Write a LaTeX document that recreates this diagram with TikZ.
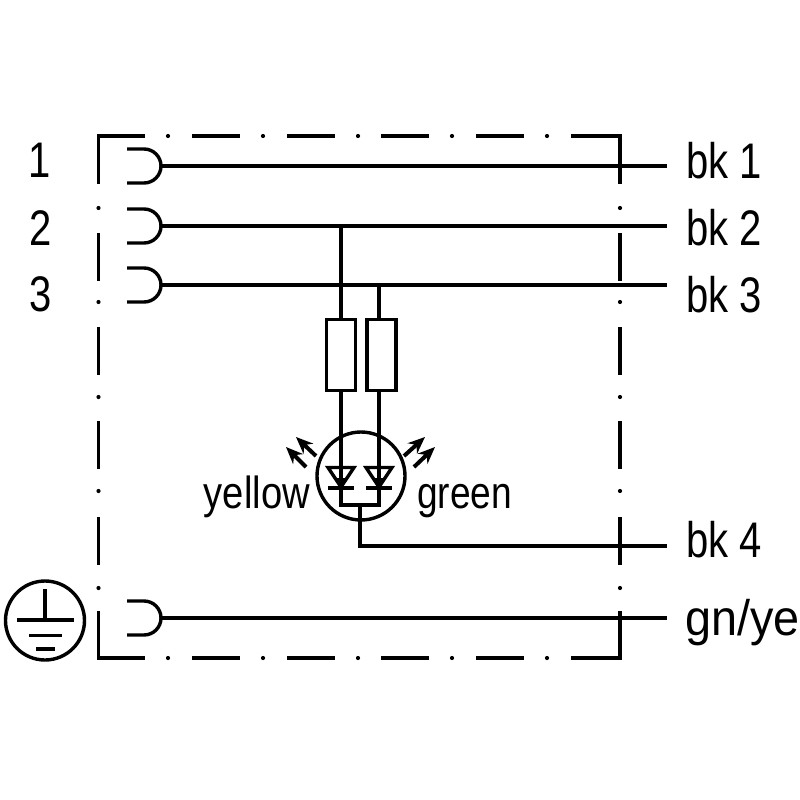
\documentclass[tikz,border=0pt]{standalone}
\usepackage{fontspec}
\setmainfont[FakeStretch=0.8]{Liberation Sans}
\usetikzlibrary{arrows.meta}
\tikzset{
  wire/.style={line width=3.4pt,black},
  frameline/.style={line width=3.4pt,black},
  res/.style={draw,line width=3.4pt,minimum width=29pt,minimum height=71pt,inner sep=0pt},
  lbl/.style={anchor=base west,inner sep=0pt,font=\fontsize{50}{50}\selectfont},
  small/.style={inner sep=0pt,font=\fontsize{45}{45}\selectfont},
  lightarrow/.style={line width=4pt,-{Stealth[length=17pt,width=14pt]}},
  ring/.style={draw,circle,line width=3.4pt,inner sep=0pt}
}
\begin{document}
\begin{tikzpicture}[x=1pt,y=-1pt]
\useasboundingbox (0,0) rectangle (800,800);
% frame corners
\draw[frameline,line join=miter] (145,136) -- (98.5,136) -- (98.5,184);
\draw[frameline,line join=miter] (571,136) -- (620,136) -- (620,184);
\draw[frameline,line join=miter] (98.5,611) -- (98.5,658) -- (145,658);
\draw[frameline,line join=miter] (620,611) -- (620,658) -- (571,658);
% frame dashes, vertical
\foreach \a/\b in {233/281,327/375,421/469,517/565}{
  \draw[frameline] (98.5,\a) -- (98.5,\b);
  \draw[frameline] (620,\a) -- (620,\b);
}
% frame dashes, horizontal
\foreach \a/\b in {192/240,287/335,381/429,476/524}{
  \draw[frameline] (\a,136) -- (\b,136);
  \draw[frameline] (\a,658) -- (\b,658);
}
% frame dots
\foreach \p in {208,302,397,491,588}{
  \fill (98.5,\p) circle[radius=2.1pt];
  \fill (620,\p) circle[radius=2.1pt];
}
\foreach \p in {168,263,358,452,547}{
  \fill (\p,136) circle[radius=2.1pt];
  \fill (\p,658) circle[radius=2.1pt];
}
% plugs
\foreach \y/\n in {166/a,226/b,285/c,618/d}{
  \draw[wire] (127,\y-17) -- (144,\y-17) arc[start angle=-90,end angle=90,radius=17] -- (127,\y+17);
  \coordinate (plug\n) at (160,\y);
  \coordinate (end\n) at (667,\y);
  \draw[wire] (plug\n) -- (end\n);
}
% labels
\node[lbl] (n1) at (28,177) {1};
\node[lbl] (n2) at (29,245) {2};
\node[lbl] (n3) at (29,311) {3};
\node[lbl] (bk1) at (686,178) {bk 1};
\node[lbl] (bk2) at (686,245) {bk 2};
\node[lbl] (bk3) at (686,312) {bk 3};
\node[lbl] (bk4) at (686,557) {bk 4};
\node[lbl] (gnye) at (685,635) {\scalebox{1.17}[1]{gn/ye}};
\node[small,anchor=base east] (yellow) at (310,508) {\scalebox{1.06}[1]{yellow}};
\node[small,anchor=base west] (green) at (417,508) {\scalebox{1.03}[1]{green}};
% resistors and LED
\coordinate (jl) at (341,226);
\coordinate (jr) at (379,285);
\node[res] (rl) at (341,355) {};
\node[res] (rr) at (381.5,355) {};
\node[ring,minimum size=88pt] (led) at (361,476) {};
\coordinate (bl) at (341,505);
\coordinate (br) at (379,505);
\coordinate (bm) at (360,505);
\coordinate (out) at (360,546);
\coordinate (endbk) at (667,546);
\draw[wire] (jl) -- (rl.north);
\draw[wire] (jr) -- (379,319);
\draw[wire,line join=miter] (rl.south) -- (bl) -- (br) -- (379,391);
\draw[wire] (bm) -- (out) -- (endbk);
% diodes
\foreach \x in {341,379}{
  \fill (\x-5,478) -- (\x+5,478) -- (\x,486) -- cycle;
  \draw[line width=3.4pt,line join=miter] (\x-13,467.5) -- (\x+13,467.5) -- (\x,487) -- cycle;
  \draw[line width=3.4pt] (\x-13,488) -- (\x+13,488);
}
% light arrows
\draw[lightarrow] (316,456) -- (296,437);
\draw[lightarrow] (306,467) -- (286,447);
\draw[lightarrow] (404,456) -- (425,437);
\draw[lightarrow] (414,467) -- (435,447);
% ground
\node[ring,minimum size=79pt] (gnd) at (45,620.5) {};
\coordinate (gt) at (45,589);
\coordinate (gb) at (45,620);
\draw[wire] (gt) -- (gb);
\draw[wire] (17,620) -- (74,620);
\draw[wire] (29,635.5) -- (62,635.5);
\draw[wire] (36,649) -- (55,649);
\end{tikzpicture}
\end{document}
